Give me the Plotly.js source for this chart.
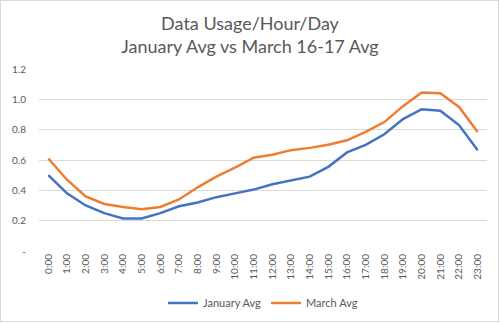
<!DOCTYPE html>
<html>
<head>
<meta charset="utf-8">
<script src="https://cdn.plot.ly/plotly-3.0.1.min.js"></script>
<style>
html,body{margin:0;padding:0;background:#fff;}
#chart{width:500px;height:323px;}
</style>
</head>
<body>
<div id="chart"></div>
<script>
const hours = ["0:00","1:00","2:00","3:00","4:00","5:00","6:00","7:00","8:00","9:00","10:00","11:00","12:00","13:00","14:00","15:00","16:00","17:00","18:00","19:00","20:00","21:00","22:00","23:00"];
const januaryAvg = [0.50,0.38,0.30,0.25,0.215,0.215,0.25,0.295,0.32,0.355,0.38,0.405,0.44,0.465,0.49,0.555,0.65,0.70,0.77,0.87,0.935,0.925,0.83,0.665];
const marchAvg = [0.61,0.47,0.36,0.31,0.29,0.275,0.29,0.34,0.42,0.49,0.55,0.615,0.635,0.665,0.68,0.70,0.73,0.785,0.85,0.955,1.045,1.04,0.95,0.785];
const yTickVals = [0,0.2,0.4,0.6,0.8,1.0,1.2];
const yTickText = ["-","0.2","0.4","0.6","0.8","1.0","1.2"];

const font = "Lato, 'Open Sans', sans-serif";
const traces = [
  {x: hours, y: januaryAvg, name: "January Avg", type: "scatter", mode: "lines",
   line: {color: "#4472C4", width: 2.5}},
  {x: hours, y: marchAvg, name: "March Avg", type: "scatter", mode: "lines",
   line: {color: "#ED7D31", width: 2.5}}
];
const layout = {
  width: 500, height: 323,
  paper_bgcolor: "#fff", plot_bgcolor: "#fff",
  margin: {l: 39, r: 13, t: 69, b: 72},
  font: {family: font, color: "#595959"},
  title: {text: "Data Usage/Hour/Day<br>January Avg vs March 16-17 Avg",
          font: {family: font, size: 18, color: "#595959"},
          x: 0.5, xanchor: "center", y: 0.908, yanchor: "middle"},
  xaxis: {type: "category", tickangle: -90, tickfont: {size: 10, color: "#595959"},
          showgrid: false, showline: false, zeroline: false, ticks: "",
          range: [-0.5, 23.5], automargin: false},
  yaxis: {range: [0, 1.2], tickvals: yTickVals, ticktext: yTickText,
          tickfont: {size: 10, color: "#595959"}, showgrid: true,
          gridcolor: "#d9d9d9", gridwidth: 1, zeroline: false, showline: false,
          ticks: "", ticklabelstandoff: 12, automargin: false},
  legend: {orientation: "h", x: 0.5, xanchor: "center", yref: "container", y: 0.062, yanchor: "middle",
           font: {size: 11, color: "#595959"}},
  showlegend: true
};
Plotly.newPlot("chart", traces, layout, {displayModeBar: false, staticPlot: true}).then(function(){
  const svg = document.querySelector("#chart .main-svg");
  const ns = "http://www.w3.org/2000/svg";
  const r = document.createElementNS(ns, "rect");
  r.setAttribute("x", 0.5); r.setAttribute("y", 0.5);
  r.setAttribute("width", 498); r.setAttribute("height", 321);
  r.setAttribute("fill", "none"); r.setAttribute("stroke", "#d9d9d9");
  svg.appendChild(r);
});
</script>
</body>
</html>
